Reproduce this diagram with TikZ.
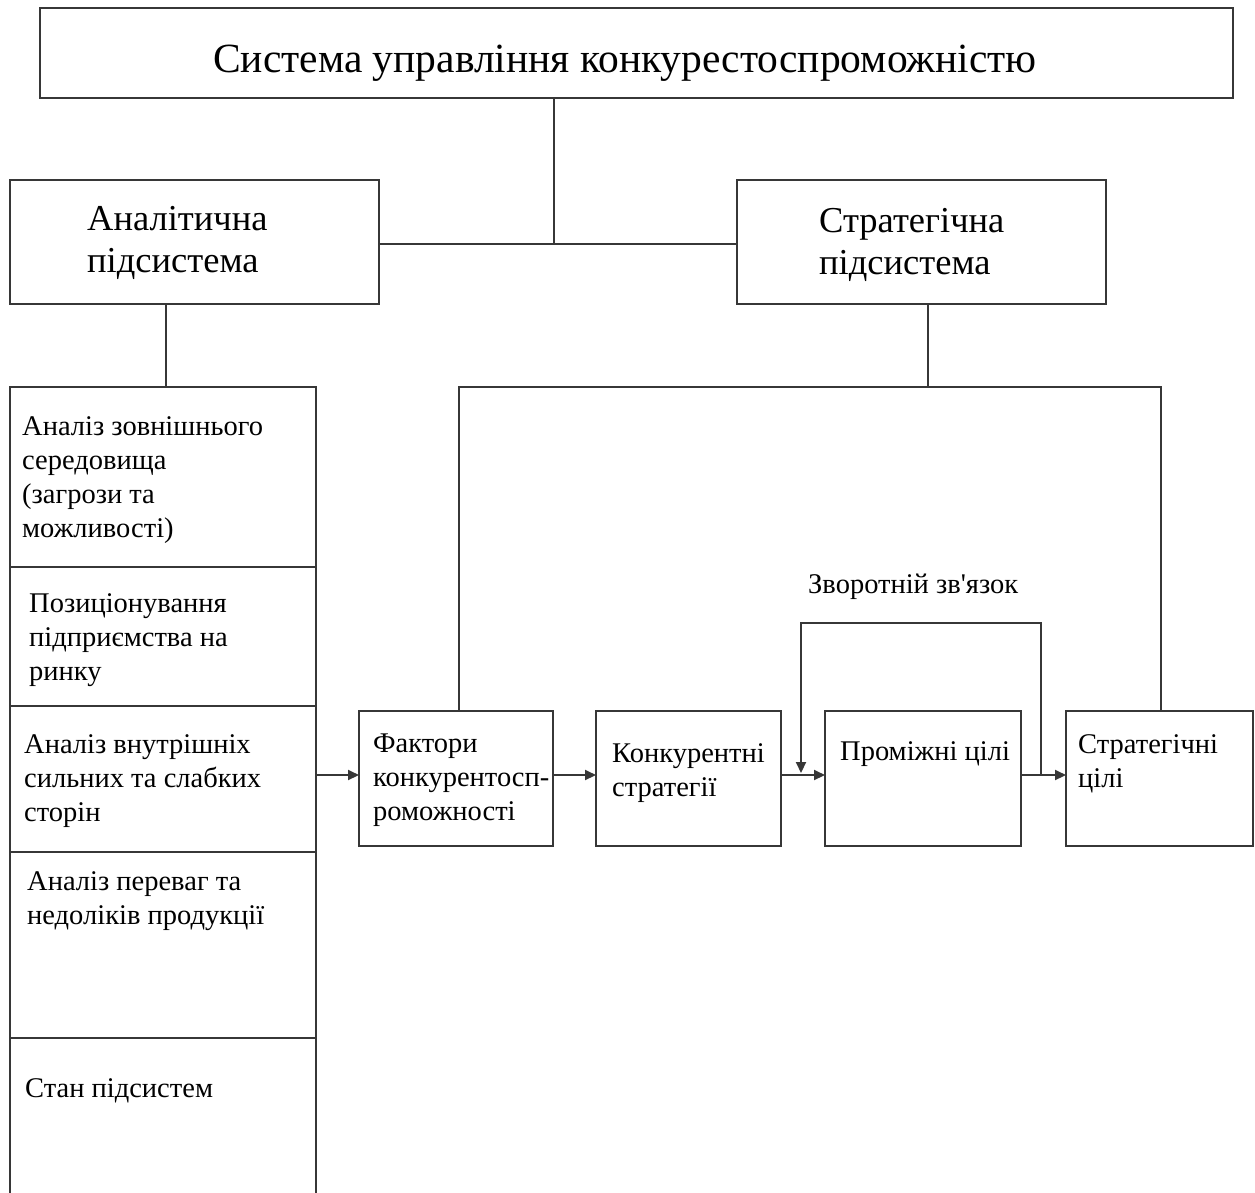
\documentclass[tikz,border=0pt]{standalone}
\usepackage{fontspec}
\setmainfont{Liberation Serif}
\newfontfamily\aposfont{Liberation Serif}
\usetikzlibrary{arrows.meta}
\definecolor{lc}{RGB}{55,55,55}
\begin{document}
\begin{tikzpicture}[x=1pt,y=-1pt,
  box/.style={draw=lc, line width=2pt, inner sep=0pt, outer sep=0pt, anchor=north west},
  nobox/.style={inner sep=0pt, outer sep=0pt, anchor=north west},
  conn/.style={draw=lc, line width=2pt},
  arr/.style={conn, -{Triangle[length=11pt,width=10pt]}},
  txt/.style={inner sep=0pt, anchor=base west, align=left, font=\fontsize{28.5}{34}\selectfont},
  midtxt/.style={inner sep=0pt, anchor=base west, align=left, font=\fontsize{36.5}{42}\selectfont},
  bigtxt/.style={inner sep=0pt, anchor=base, font=\fontsize{41.5}{46}\selectfont}]
\useasboundingbox[fill=white] (0,0) rectangle (1255,1192);

% boxes
\node[box, minimum width=1193pt, minimum height=90pt] (title) at (40,8) {};
\node[box, minimum width=369pt, minimum height=124pt] (anal) at (10,180) {};
\node[box, minimum width=369pt, minimum height=124pt] (strat) at (737,180) {};
\node[box, minimum width=306pt, minimum height=180pt] (r1) at (10,387) {};
\node[box, minimum width=306pt, minimum height=139pt] (r2) at (10,567) {};
\node[box, minimum width=306pt, minimum height=146pt] (r3) at (10,706) {};
\node[box, minimum width=306pt, minimum height=186pt] (r4) at (10,852) {};
\node[nobox, minimum width=306pt, minimum height=160pt] (r5) at (10,1038) {};
\draw[conn] (r5.south west) |- (r5.north east) -- (r5.south east);
\node[box, minimum width=194pt, minimum height=135pt] (fak) at (359,711) {};
\node[box, minimum width=185pt, minimum height=135pt] (kon) at (596,711) {};
\node[box, minimum width=196pt, minimum height=135pt] (prom) at (825,711) {};
\node[box, minimum width=187pt, minimum height=135pt] (stc) at (1066,711) {};

% texts (anchor = baseline of the last line)
\node[bigtxt] (titletxt) at (625,72) {Система управління конкурестоспроможністю};
\node[midtxt] (analtxt) at (87,272) {Аналітична\\підсистема};
\node[midtxt] (strattxt) at (819,274) {Стратегічна\\підсистема};
\node[txt] (r1txt) at (22,537) {Аналіз зовнішнього\\середовища\\(загрози та\\можливості)};
\node[txt] (r2txt) at (29,680) {Позиціонування\\підприємства на\\ринку};
\node[txt] (r3txt) at (24,821) {Аналіз внутрішніх\\сильних та слабких\\сторін};
\node[txt] (r4txt) at (27,924) {Аналіз переваг та\\недоліків продукції};
\node[txt] (r5txt) at (25,1097) {Стан підсистем};
\node[txt] (faktxt) at (373,820) {Фактори\\конкурентосп-\\роможності};
\node[txt] (kontxt) at (612,796) {Конкурентні\\стратегії};
\node[txt] (promtxt) at (840,760) {Проміжні цілі};
\node[txt] (stctxt) at (1078,787) {Стратегічні\\цілі};
\node[txt] (fbtxt) at (808,593) {Зворотній зв{\aposfont'}язок};

% connectors
\coordinate (tj) at (554,244);
\draw[conn] (title.south -| tj) -- (tj);
\draw[conn] (anal.east |- tj) -- (strat.west |- tj);
\coordinate (ac) at (166,0);
\draw[conn] (anal.south -| ac) -- (r1.north -| ac);
\coordinate (sx) at (928,387);
\coordinate (bl) at (459,387);
\coordinate (br) at (1161,387);
\draw[conn] (strat.south -| sx) -- (sx);
\draw[conn] (fak.north -| bl) -- (bl) -- (br) -- (stc.north -| br);

\coordinate (ay) at (0,775);
\draw[arr] (r3.east |- ay) -- (fak.west |- ay);
\draw[arr] (fak.east |- ay) -- (kon.west |- ay);
\draw[arr] (kon.east |- ay) -- (prom.west |- ay);
\draw[arr] (prom.east |- ay) -- (stc.west |- ay);

\coordinate (fbr) at (1041,775);
\coordinate (fbtop) at (1041,623);
\coordinate (fbl) at (801,773);
\draw[arr] (fbr) -- (fbtop) -| (fbl);
\end{tikzpicture}
\end{document}
